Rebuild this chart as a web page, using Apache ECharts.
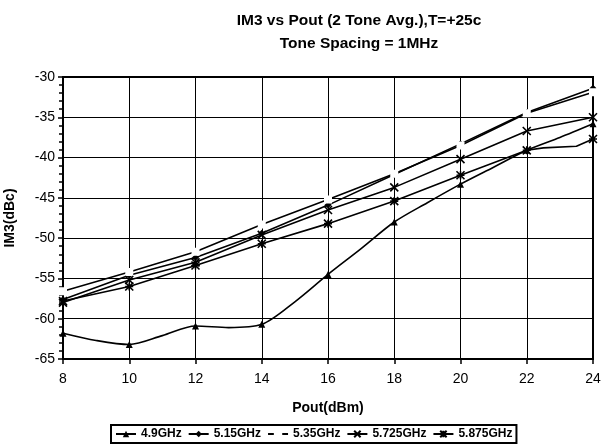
<!DOCTYPE html>
<html><head><meta charset="utf-8">
<script src="https://cdn.jsdelivr.net/npm/echarts@6/dist/echarts.min.js"></script>
<style>html,body{margin:0;padding:0;background:#fff}#c{width:601px;height:447px}</style>
</head><body><div id="c"></div>
<script>
const seriesNames = ['4.9GHz','5.15GHz','5.35GHz','5.725GHz','5.875GHz'];
const xTicks = [8,10,12,14,16,18,20,22,24];
const yTicks = [-65,-60,-55,-50,-45,-40,-35,-30];
// 4.9GHz (triangle)
const x49 = [8,9,10,11,12,13,14,15,16,17,18,19,20,21,22,23,24];
const v49 = [-61.8,-62.7,-63.2,-62.1,-60.9,-61.1,-60.7,-57.9,-54.5,-51.3,-48.0,-45.6,-43.3,-41.2,-39.1,-37.5,-35.8];
// 5.15GHz (diamond)
const x515 = [8,10,12,14,16,18,20,22,24];
const v515 = [-57.6,-54.6,-52.4,-49.4,-45.9,-42.1,-38.3,-34.4,-31.4];
// 5.35GHz (open square)
const x535 = [8,10,12,14,16,18,20,22,24];
const v535 = [-56.6,-54.2,-51.7,-48.3,-45.2,-42.0,-38.5,-34.5,-31.9];
// 5.725GHz (x)
const x5725 = [8,10,12,14,16,18,20,22,24];
const v5725 = [-58.0,-55.2,-53.0,-49.6,-46.5,-43.7,-40.2,-36.7,-35.0];
// 5.875GHz (asterisk)
const x5875 = [8,10,12,14,16,18,20,22,22.5,23.5,24];
const v5875 = [-57.8,-56.0,-53.4,-50.7,-48.2,-45.4,-42.2,-39.1,-38.8,-38.6,-37.7];

const FONT = '"Liberation Sans", Arial, sans-serif';
const pairs = (xs, vs) => xs.map((x, i) => [x, vs[i]]);
const markerAt = v => (Math.abs(v[0] % 2) < 1e-9 ? 1 : 0);

const symbols = [
  'triangle',
  'diamond',
  'emptyRect',
  'path://M0,0L10,10M10,0L0,10',
  'path://M0,0L10,10M10,0L0,10M5,0L5,10M0,5L10,5'
];
const sizes = [7, 7, 6, 8, 8];
const datas = [pairs(x49, v49), pairs(x515, v515), pairs(x535, v535), pairs(x5725, v5725), pairs(x5875, v5875)];

const series = seriesNames.map((n, i) => ({
  name: n,
  type: 'line',
  data: datas[i],
  symbol: symbols[i],
  symbolSize: v => markerAt(v) ? sizes[i] : 0,
  showAllSymbol: true,
  smooth: i === 0 ? 0.3 : false,
  lineStyle: { color: '#000', width: 1.6 },
  itemStyle: { color: i === 2 ? '#fff' : '#000', borderColor: '#000', borderWidth: (i >= 2) ? 1.6 : 0 },
  emphasis: { disabled: true },
  z: 3
}));

const chart = echarts.init(document.getElementById('c'), null, { renderer: 'canvas' });
chart.setOption({
  animation: false,
  backgroundColor: '#fff',
  title: {
    text: 'IM3 vs Pout (2 Tone Avg.),T=+25c\nTone Spacing = 1MHz',
    left: 354, top: 4, textAlign: 'center',
    textStyle: { fontFamily: FONT, fontWeight: 'bold', fontSize: 15.5, lineHeight: 23, color: '#000' }
  },
  legend: {
    data: seriesNames,
    bottom: 4, left: 111,
    orient: 'horizontal',
    borderColor: '#000', borderWidth: 2,
    padding: [3, 4], itemGap: 6, itemWidth: 20, itemHeight: 8,
    textStyle: { fontFamily: FONT, fontWeight: 'bold', fontSize: 12, color: '#000' },
    inactiveColor: '#000'
  },
  grid: { left: 63, right: 8, top: 77, bottom: 88, show: true, borderColor: '#000', borderWidth: 2, backgroundColor: 'transparent', outerBoundsMode: 'none', containLabel: false },
  xAxis: {
    type: 'value', min: xTicks[0], max: xTicks[xTicks.length - 1], interval: 2,
    name: 'Pout(dBm)', nameLocation: 'middle', nameGap: 42,
    nameTextStyle: { fontFamily: FONT, fontWeight: 'bold', fontSize: 14, color: '#000' },
    axisLine: { lineStyle: { color: '#000', width: 2 } },
    axisTick: { show: true, length: 5, lineStyle: { color: '#000', width: 1.5 } },
    axisLabel: { fontFamily: FONT, fontSize: 14, color: '#000', margin: 13 },
    splitLine: { show: true, lineStyle: { color: '#000', width: 1 } }
  },
  yAxis: {
    type: 'value', min: yTicks[0], max: yTicks[yTicks.length - 1], interval: 5,
    name: 'IM3(dBc)', nameLocation: 'middle', nameGap: 46, nameRotate: 90,
    nameTextStyle: { fontFamily: FONT, fontWeight: 'bold', fontSize: 14, color: '#000' },
    axisLine: { lineStyle: { color: '#000', width: 2 } },
    axisTick: { show: true, length: 5, lineStyle: { color: '#000', width: 1.5 } },
    minorTick: { show: true, splitNumber: 5, length: 4, lineStyle: { color: '#000', width: 1.5 } },
    axisLabel: { fontFamily: FONT, fontSize: 14, color: '#000', margin: 8 },
    splitLine: { show: true, lineStyle: { color: '#000', width: 1 } }
  },
  series: series
});
</script></body></html>
